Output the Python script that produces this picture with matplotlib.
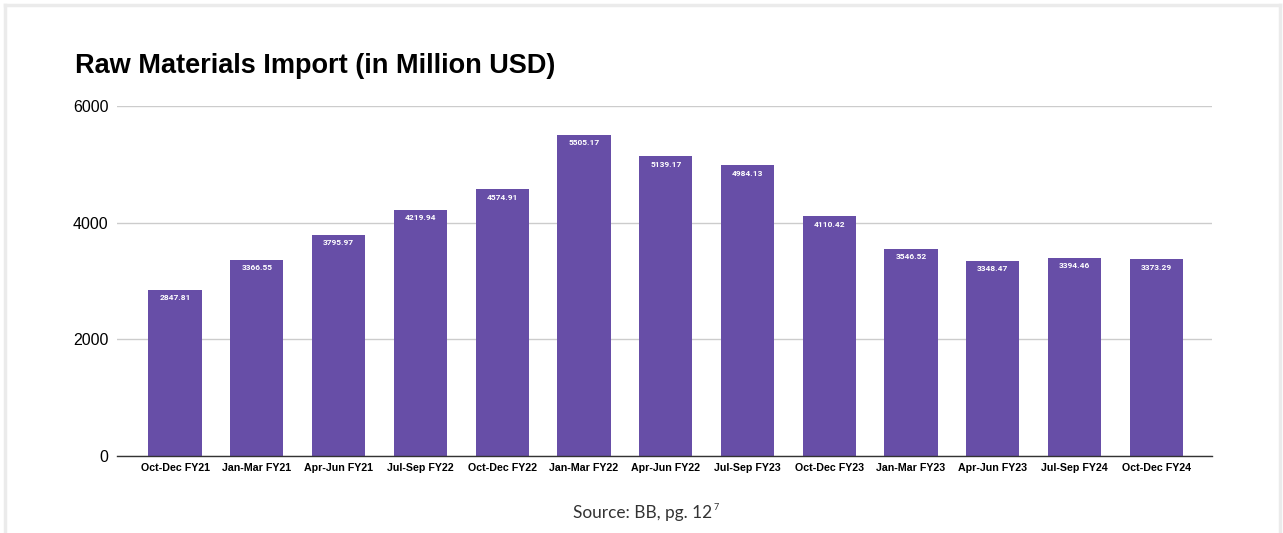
import numpy as np
import matplotlib.pyplot as plt
from matplotlib.lines import Line2D

quarters = ["Oct-Dec FY21", "Jan-Mar FY21", "Apr-Jun FY21", "Jul-Sep FY22",
            "Oct-Dec FY22", "Jan-Mar FY22", "Apr-Jun FY22", "Jul-Sep FY23",
            "Oct-Dec FY23", "Jan-Mar FY23", "Apr-Jun FY23", "Jul-Sep FY24",
            "Oct-Dec FY24"]
imports = [2847.81, 3366.55, 3795.97, 4219.94, 4574.91, 5505.17, 5139.17,
           4984.13, 4110.42, 3546.52, 3348.47, 3394.46, 3373.29]
yticks = [0, 2000, 4000, 6000]

W, H = 1283, 533
fig = plt.figure(figsize=(W / 100, H / 100), dpi=100)

# axes placed by pixel
left, right, top, bottom = 117, 1212, 106, 456
ax = fig.add_axes([left / W, 1 - bottom / H, (right - left) / W, (bottom - top) / H])

x = np.arange(len(quarters))
ax.bar(x, imports, width=0.65, color="#674ea7", zorder=3)

for xi, v in zip(x, imports):
    ax.text(xi, v - 135, f"{v:.2f}", ha="center", va="center", color="white",
            fontsize=6, fontweight="bold", family="Roboto", zorder=4)

ax.set_xlim(-0.71, 12.68)
ax.set_ylim(0, 6000)
ax.set_yticks(yticks)
ax.set_yticklabels([str(t) for t in yticks], family="Liberation Sans", fontsize=11.5)
ax.set_xticks(x)
ax.set_xticklabels(quarters, family="Liberation Sans", fontsize=7.7, fontweight="bold")
ax.tick_params(length=0)
ax.tick_params(axis="y", pad=6)
ax.tick_params(axis="x", pad=5)
ax.grid(axis="y", color="#cccccc", linewidth=1, zorder=0)
for s in ["top", "right", "left"]:
    ax.spines[s].set_visible(False)
ax.spines["bottom"].set_color("#333333")
ax.spines["bottom"].set_linewidth(1)
ax.spines["bottom"].set_zorder(5)

fig.text(75 / W, 1 - 66 / H, "Raw Materials Import (in Million USD)", ha="left", va="center",
         family="Liberation Sans", fontweight="bold", fontsize=19.5)

src = fig.text(573 / W, 1 - 513 / H, "Source: BB, pg. 12", ha="left", va="center",
               family="Lato", fontsize=12.4, color="#333333")
fig.canvas.draw()
bb = src.get_window_extent()
fig.text(bb.x1 / W + 1 / W, 1 - 507 / H, "7", ha="left", va="center",
         family="Lato", fontsize=6.5, color="#333333")

# light frame around the chart
fc = "#ebebeb"
fig.add_artist(Line2D([5 / W, 1280 / W], [1 - 5 / H, 1 - 5 / H], color=fc, lw=2.5, transform=fig.transFigure))
fig.add_artist(Line2D([5 / W, 5 / W], [0, 1 - 5 / H], color=fc, lw=2.5, transform=fig.transFigure))
fig.add_artist(Line2D([1280 / W, 1280 / W], [0, 1 - 5 / H], color=fc, lw=2.5, transform=fig.transFigure))

fig.savefig("out.png", dpi=100, facecolor="white")
